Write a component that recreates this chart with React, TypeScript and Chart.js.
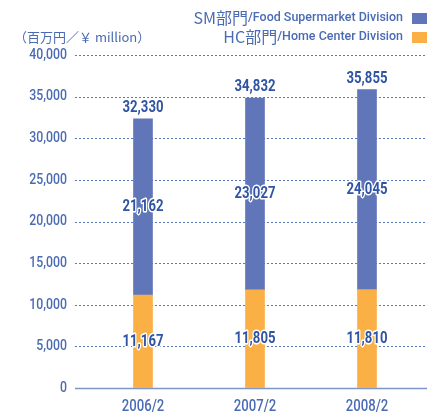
import React, { useEffect, useRef } from "react";
import { Chart, registerables } from "chart.js";

Chart.register(...registerables);

const categories = ["2006/2", "2007/2", "2008/2"];
const hcValues = [11167, 11805, 11810];
const smValues = [21162, 23027, 24045];
const totals = [32330, 34832, 35855];
const yTicks = [0, 5000, 10000, 15000, 20000, 25000, 30000, 35000, 40000];
const legendItems = [
  { jp: "SM部門", en: "/Food Supermarket Division", color: "#6176b9" },
  { jp: "HC部門", en: "/Home Center Division", color: "#fbb045" },
];
const unitLabel = "（百万円／￥ million）";

const FONT = "Roboto, sans-serif";
const SX = 0.82;
const TEXT_BLUE = "#2f54a3";
const TICK_BLUE = "#4a6bb4";

const fmt = (v: number) => v.toLocaleString("en-US");

function drawText(
  ctx: CanvasRenderingContext2D,
  txt: string,
  x: number,
  y: number,
  align: CanvasTextAlign,
  font: string,
  color: string,
  halo = false,
  sx = SX
) {
  ctx.save();
  ctx.translate(x, y);
  ctx.scale(sx, 1);
  ctx.font = font;
  ctx.textAlign = align;
  ctx.textBaseline = "middle";
  if (halo) {
    ctx.lineJoin = "round";
    ctx.strokeStyle = "#ffffff";
    ctx.lineWidth = 3;
    ctx.strokeText(txt, 0, 0);
  }
  ctx.fillStyle = color;
  ctx.fillText(txt, 0, 0);
  ctx.restore();
}

const decorPlugin = {
  id: "decor",
  beforeDatasetsDraw(chart: any) {
    const { ctx, scales, width } = chart;
    const y = scales.y;
    const x = scales.x;
    ctx.save();
    yTicks.forEach((t) => {
      const py = Math.round(y.getPixelForValue(t)) + 0.5;
      ctx.beginPath();
      if (t === 0) {
        ctx.setLineDash([]);
        ctx.strokeStyle = "#7d95c9";
        ctx.lineWidth = 1.5;
      } else {
        ctx.setLineDash([2, 2]);
        ctx.strokeStyle = "#5a78bd";
        ctx.lineWidth = 1;
      }
      ctx.moveTo(75, py);
      ctx.lineTo(width, py);
      ctx.stroke();
      drawText(ctx, fmt(t), 67, y.getPixelForValue(t), "right", `500 15px ${FONT}`, TICK_BLUE);
    });
    ctx.restore();
    categories.forEach((c, i) => {
      drawText(ctx, c, x.getPixelForValue(i), 407, "center", `500 16px ${FONT}`, TICK_BLUE);
    });
  },
  afterDatasetsDraw(chart: any) {
    const { ctx, scales } = chart;
    const x = scales.x;
    const y = scales.y;
    const f = `bold 16px ${FONT}`;
    categories.forEach((_, i) => {
      const px = x.getPixelForValue(i);
      drawText(ctx, fmt(hcValues[i]), px, y.getPixelForValue(hcValues[i] / 2), "center", f, TEXT_BLUE, true);
      drawText(ctx, fmt(smValues[i]), px, y.getPixelForValue(hcValues[i] + smValues[i] / 2), "center", f, TEXT_BLUE, true);
      drawText(ctx, fmt(totals[i]), px, y.getPixelForValue(totals[i]) - 11, "center", f, TEXT_BLUE, true);
    });

    // unit label
    drawText(ctx, unitLabel, 14, 37, "left", '13px "Noto Sans CJK JP", sans-serif', TICK_BLUE, false, 1);

    // legend
    const rightEdge = 403;
    const enFont = `500 13px ${FONT}`;
    ctx.save();
    ctx.font = enFont;
    const legSX = 155 / ctx.measureText(legendItems[0].en).width;
    ctx.restore();
    legendItems.forEach((item, k) => {
      const cy = 18 + k * 19;
      drawText(ctx, item.en, rightEdge, cy, "right", enFont, TICK_BLUE, false, legSX);
      ctx.save();
      ctx.font = enFont;
      const enW = ctx.measureText(item.en).width * legSX;
      ctx.restore();
      drawText(ctx, item.jp, rightEdge - enW, cy, "right", '16px "Noto Sans CJK JP", sans-serif', TICK_BLUE, false, 1);
      ctx.save();
      ctx.fillStyle = item.color;
      ctx.fillRect(412, cy - 5, 16, 11);
      ctx.restore();
    });
  },
};

export default function App() {
  const ref = useRef<HTMLCanvasElement>(null);
  useEffect(() => {
    document.body.style.margin = "0";
    const chart = new Chart(ref.current!, {
      type: "bar",
      data: {
        labels: categories,
        datasets: [
          { label: "HC", data: hcValues, backgroundColor: legendItems[1].color, barThickness: 19, stack: "s" },
          { label: "SM", data: smValues, backgroundColor: legendItems[0].color, barThickness: 19, stack: "s" },
        ],
      },
      options: {
        animation: false,
        responsive: false,
        maintainAspectRatio: false,
        layout: { padding: { top: 55, right: 4, left: 0, bottom: 0 } },
        plugins: { legend: { display: false }, tooltip: { enabled: false } },
        scales: {
          x: {
            stacked: true,
            grid: { display: false, drawTicks: false },
            border: { display: false },
            ticks: { display: false },
            afterFit: (s: any) => { s.height = 26; },
          },
          y: {
            stacked: true,
            min: 0,
            max: 40000,
            grid: { display: false, drawTicks: false },
            border: { display: false },
            ticks: { display: false, stepSize: 5000 },
            afterFit: (s: any) => { s.width = 87; },
          },
        },
      },
      plugins: [decorPlugin],
    });
    return () => chart.destroy();
  }, []);
  return (
    <div style={{ width: 427, height: 414 }}>
      <canvas ref={ref} width={427} height={414} />
    </div>
  );
}
